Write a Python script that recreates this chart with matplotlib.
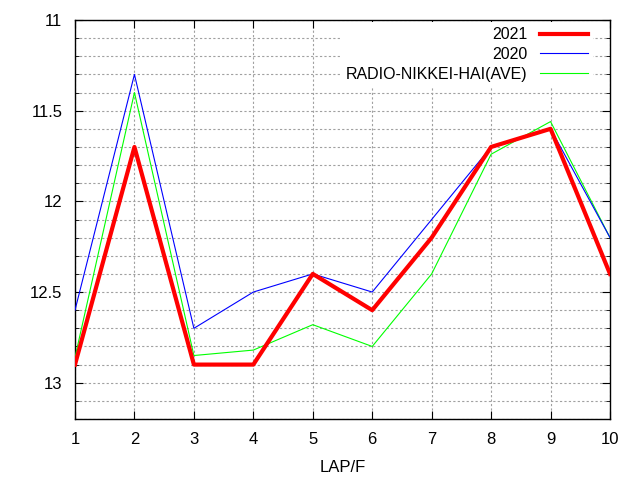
import numpy as np
import matplotlib
matplotlib.use('Agg')
import matplotlib.pyplot as plt
from matplotlib.ticker import MultipleLocator

plt.rcParams['font.family'] = ['Liberation Sans', 'DejaVu Sans']

# データ
lap = [1, 2, 3, 4, 5, 6, 7, 8, 9, 10]
y2021 = [12.9, 11.7, 12.9, 12.9, 12.4, 12.6, 12.2, 11.7, 11.6, 12.4]
y2020 = [12.6, 11.3, 12.7, 12.5, 12.4, 12.5, 12.1, 11.7, 11.6, 12.2]
y_ave = [12.86, 11.4, 12.85, 12.82, 12.68, 12.8, 12.4, 11.74, 11.56, 12.2]

fig = plt.figure(figsize=(6.4, 4.8), dpi=100)
ax = fig.add_axes([75/640, 1-419/480, 535/640, 399/480])

ax.plot(lap, y2021, color='#ff0000', lw=3, label='2021', zorder=5)
ax.plot(lap, y2020, color='#0000ff', lw=0.8, label='2020', zorder=4)
ax.plot(lap, y_ave, color='#00ff00', lw=0.8, label='RADIO-NIKKEI-HAI(AVE)', zorder=3)

ax.set_xlim(1, 10)
ax.set_ylim(13.2, 11)
ax.set_xticks(lap)
ax.yaxis.set_major_locator(MultipleLocator(0.5))
ax.yaxis.set_minor_locator(MultipleLocator(0.1))
ax.set_yticks([11, 11.5, 12, 12.5, 13])
ax.set_yticklabels(['11', '11.5', '12', '12.5', '13'])

ax.grid(True, which='both', color='#a0a0a0', ls=(0, (2, 2)), lw=0.8)
ax.tick_params(which='both', direction='in', top=True, right=True, labelsize=12, pad=9)
ax.tick_params(which='major', length=6)
ax.tick_params(which='minor', length=3)
ax.set_xlabel('LAP/F', fontsize=12, labelpad=10)
for s in ax.spines.values():
    s.set_linewidth(1)

leg = ax.legend(loc='upper right', bbox_to_anchor=(593/640, 1-22.4/480),
                bbox_transform=fig.transFigure,
                markerfirst=False, fontsize=11.5, frameon=True,
                facecolor='white', edgecolor='none', framealpha=1, fancybox=False,
                handlelength=3.0, handletextpad=0.8, labelspacing=0.3,
                borderaxespad=0, borderpad=0.3)
leg.set_zorder(10)
for t in leg.get_texts():
    t.set_ha('right')

fig.savefig('out.png', dpi=100)
